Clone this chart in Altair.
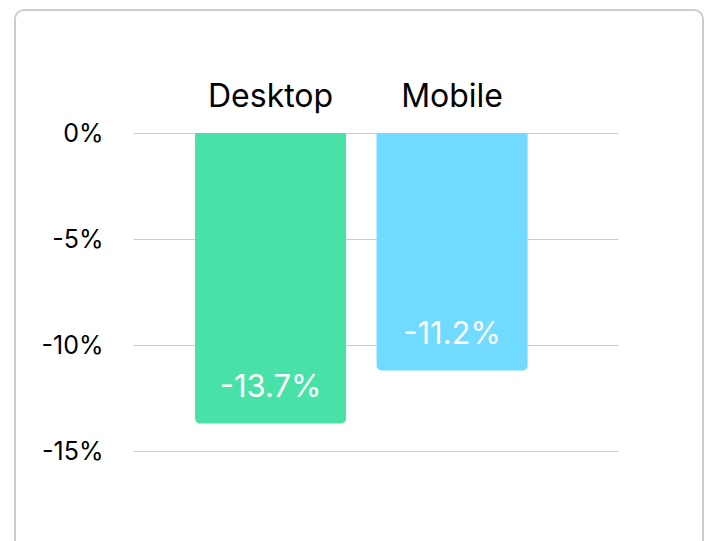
import altair as alt
import pandas as pd

categories = ["Desktop", "Mobile"]
values = [-13.7, -11.2]
colors = ["#48E1A8", "#70DAFF"]
y_ticks = [0, -5, -10, -15]

df = pd.DataFrame({"device": categories, "change": values})

FONT = "Inter"

x_enc = alt.X(
    "device:N",
    sort=categories,
    scale=alt.Scale(paddingInner=0.168, paddingOuter=0.42, align=0.407),
    axis=None,
)
y_scale = alt.Scale(domain=[-15, 0], nice=False, zero=False)

base = alt.Chart(df)

bars = base.mark_bar(cornerRadiusBottomLeft=5, cornerRadiusBottomRight=5).encode(
    x=x_enc,
    y=alt.Y(
        "change:Q",
        scale=y_scale,
        axis=alt.Axis(
            values=y_ticks,
            labelExpr="datum.value + '%'",
            title=None,
            ticks=False,
            domain=False,
            grid=True,
            gridColor="#cccccc",
            gridWidth=1,
            labelFont=FONT,
            labelFontSize=25,
            labelColor="#000000",
            labelPadding=30,
        ),
    ),
    y2=alt.datum(0),
    color=alt.Color("device:N", scale=alt.Scale(domain=categories, range=colors), legend=None),
)

value_labels = base.transform_calculate(
    label="datum.change + '%'"
).mark_text(
    font=FONT, fontSize=31, color="white", baseline="alphabetic", align="center", dy=-26
).encode(
    x=x_enc,
    y=alt.Y("change:Q", scale=y_scale),
    text="label:N",
)

cat_labels = base.mark_text(
    font=FONT, fontSize=32, color="#000000", baseline="alphabetic", align="center", dy=-26
).encode(
    x=x_enc,
    y=alt.datum(0, scale=y_scale),
    text="device:N",
)

frame = alt.Chart(alt.Data(values=[{"k": 1}])).mark_rect(
    fill=None, stroke="#cccccc", strokeWidth=2, cornerRadius=9
).encode(
    x=alt.value(-118),
    x2=alt.value(570),
    y=alt.value(-123),
    y2=alt.value(640),
)

chart = alt.layer(frame, bars, value_labels, cat_labels).properties(
    width=485,
    height=318,
    autosize=alt.AutoSizeParams(type="none"),
    padding={"left": 125, "top": 125, "right": 86, "bottom": 92},
).configure_view(stroke=None)

chart.save("out.html", embed_options={"renderer": "svg", "actions": False})
